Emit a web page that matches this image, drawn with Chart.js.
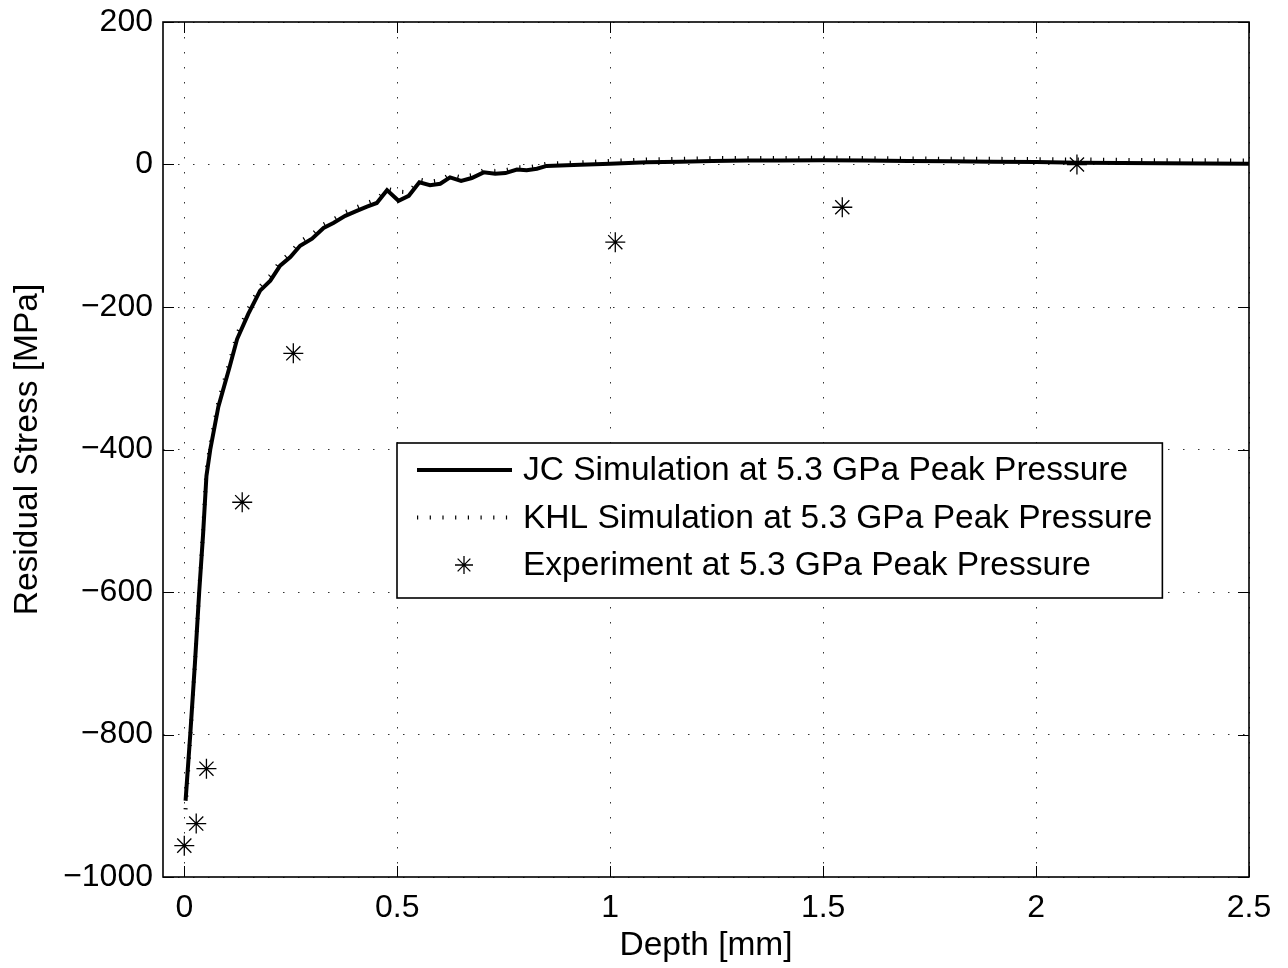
<!DOCTYPE html>
<html>
<head>
<meta charset="utf-8">
<script src="https://cdn.jsdelivr.net/npm/chart.js@4.4.1/dist/chart.umd.min.js"></script>
<style>
  html, body { margin: 0; padding: 0; background: #fff; }
</style>
</head>
<body>
<canvas id="chart" width="1288" height="968"></canvas>
<script>
// Simulated residual stress profiles
const simDepth = [0.003, 0.014, 0.025, 0.035, 0.044, 0.052, 0.061, 0.08, 0.106, 0.124, 0.15, 0.178, 0.202, 0.225, 0.249,
  0.272, 0.300, 0.327, 0.350, 0.378, 0.405, 0.429, 0.452, 0.476, 0.503, 0.527, 0.552, 0.577, 0.601, 0.624, 0.650,
  0.675, 0.703, 0.730, 0.754, 0.781, 0.804, 0.828, 0.851, 0.93, 1.0, 1.086, 1.164, 1.24, 1.32, 1.40, 1.5, 1.6, 1.7,
  1.8, 1.9, 2.0, 2.1, 2.2, 2.3, 2.4, 2.5];
const jcStress = [-893, -800, -700, -600, -520, -437, -400, -340, -285, -245, -210, -177, -163, -142, -130,
  -114, -104, -89, -82, -72, -65, -59, -54, -36, -51, -44, -25, -29, -27, -18, -23,
  -19, -11, -13, -12, -7, -8, -6, -2, -0.5, 1, 3, 4, 5, 5.6, 5.6, 6, 5.5, 5,
  4.5, 4, 3.5, 2.5, 2, 1.8, 1.5, 1];
const khlStress = [-905, -805, -700, -598, -515, -430, -393, -333, -278, -238, -203, -171, -156, -136, -124,
  -108, -98, -84, -77, -67, -60, -54, -49, -34, -38, -39, -21, -24, -22, -14, -18,
  -15, -8, -9, -8, -4, -4, -2, 1, 3, 5, 7, 8, 9, 9, 9, 9.5, 9, 8.5,
  8, 8, 7.5, 7, 6.5, 6, 6, 5.5];

// Measured points
const expDepth = [0, 0.028, 0.052, 0.136, 0.256, 1.012, 1.545, 2.096];
const expStress = [-956, -925, -848, -474, -265, -109, -60, 0];

const xTicks = [0, 0.5, 1, 1.5, 2, 2.5];
const yTicks = [-1000, -800, -600, -400, -200, 0, 200];

const seriesLabels = [
  'JC Simulation at 5.3 GPa Peak Pressure',
  'KHL Simulation at 5.3 GPa Peak Pressure',
  'Experiment at 5.3 GPa Peak Pressure'
];

const FONT = "'Liberation Sans', Arial, Helvetica, sans-serif";
const FS = 32;      // tick labels
const FS_TXT = 33.5; // titles and legend
const KHL_DASH = [1.2, 11.5];

const toPts = (xs, ys) => xs.map((x, i) => ({ x: x, y: ys[i] }));

function fmt(v) {
  const s = String(v);
  return v < 0 ? '\u2212' + s.slice(1) : s;
}

function drawStar(ctx, x, y, r) {
  ctx.beginPath();
  ctx.moveTo(x - r, y); ctx.lineTo(x + r, y);
  ctx.moveTo(x, y - r); ctx.lineTo(x, y + r);
  const d = r * Math.SQRT1_2;
  ctx.moveTo(x - d, y - d); ctx.lineTo(x + d, y + d);
  ctx.moveTo(x - d, y + d); ctx.lineTo(x + d, y - d);
  ctx.stroke();
}

// MATLAB-like box with inward ticks on all four sides
const framePlugin = {
  id: 'frame',
  afterDraw(chart) {
    const { ctx, chartArea: a, scales } = chart;
    const tl = 11;
    ctx.save();
    ctx.strokeStyle = '#000';
    ctx.lineWidth = 1;
    ctx.beginPath();
    xTicks.forEach(v => {
      const px = Math.round(scales.x.getPixelForValue(v)) + 0.5;
      ctx.moveTo(px, a.bottom); ctx.lineTo(px, a.bottom - tl);
      ctx.moveTo(px, a.top); ctx.lineTo(px, a.top + tl);
    });
    yTicks.forEach(v => {
      const py = Math.round(scales.y.getPixelForValue(v)) + 0.5;
      ctx.moveTo(a.left, py); ctx.lineTo(a.left + tl, py);
      ctx.moveTo(a.right, py); ctx.lineTo(a.right - tl, py);
    });
    ctx.stroke();
    ctx.lineWidth = 1.6;
    ctx.strokeRect(a.left, a.top, a.right - a.left, a.bottom - a.top);
    ctx.restore();
  }
};

// Legend box inside the plot
const legendPlugin = {
  id: 'boxLegend',
  afterDraw(chart) {
    const { ctx, chartArea: a } = chart;
    const x0 = a.left + 234, y0 = a.top + 421;
    const rowH = 47.5;
    const textX = x0 + 126;
    ctx.save();
    ctx.font = FS_TXT + 'px ' + FONT;
    const w = Math.max(...seriesLabels.map(t => ctx.measureText(t).width));
    const bw = textX - x0 + w + 10, bh = 155;
    ctx.fillStyle = '#fff';
    ctx.fillRect(x0, y0, bw, bh);
    ctx.strokeStyle = '#000';
    ctx.lineWidth = 1.6;
    ctx.strokeRect(x0, y0, bw, bh);

    const ly = i => y0 + 27 + i * rowH;
    // JC
    ctx.lineWidth = 4;
    ctx.beginPath(); ctx.moveTo(x0 + 20, ly(0)); ctx.lineTo(x0 + 115, ly(0)); ctx.stroke();
    // KHL
    ctx.setLineDash(KHL_DASH);
    ctx.lineCap = 'butt';
    ctx.beginPath(); ctx.moveTo(x0 + 20, ly(1)); ctx.lineTo(x0 + 115, ly(1)); ctx.stroke();
    ctx.setLineDash([]);
    // Experiment
    ctx.lineWidth = 1.3;
    drawStar(ctx, x0 + 67, ly(2), 9);

    ctx.fillStyle = '#000';
    ctx.textAlign = 'left';
    ctx.textBaseline = 'middle';
    seriesLabels.forEach((t, i) => ctx.fillText(t, textX, ly(i) + 1));
    ctx.restore();
  }
};

const ctx = document.getElementById('chart').getContext('2d');
new Chart(ctx, {
  type: 'scatter',
  data: {
    datasets: [
      {
        label: seriesLabels[1],
        data: toPts(simDepth, khlStress),
        showLine: true,
        borderColor: '#000',
        borderWidth: 4,
        borderDash: KHL_DASH,
        borderCapStyle: 'butt',
        pointRadius: 0,
        tension: 0,
        order: 3
      },
      {
        label: seriesLabels[0],
        data: toPts(simDepth, jcStress),
        showLine: true,
        borderColor: '#000',
        borderWidth: 4,
        pointRadius: 0,
        tension: 0,
        order: 2
      },
      {
        label: seriesLabels[2],
        data: toPts(expDepth, expStress),
        showLine: false,
        pointStyle: 'star',
        pointRadius: 10,
        borderColor: '#000',
        backgroundColor: '#000',
        pointBorderWidth: 1.3,
        clip: false,
        order: 1
      }
    ]
  },
  options: {
    responsive: false,
    animation: false,
    devicePixelRatio: 1,
    layout: { padding: { top: 22, right: 39, left: 0, bottom: 0 } },
    plugins: {
      legend: { display: false },
      tooltip: { enabled: false }
    },
    scales: {
      x: {
        type: 'linear',
        min: -0.05,
        max: 2.5,
        afterBuildTicks: s => { s.ticks = xTicks.map(v => ({ value: v })); },
        afterFit: s => { s.height = 91; s.paddingLeft = 0; s.paddingRight = 0; },
        grid: { color: '#333', lineWidth: 1, drawTicks: false },
        border: { display: false, dash: [1.5, 13.5] },
        ticks: {
          color: '#000',
          font: { family: FONT, size: FS },
          padding: 12,
          maxRotation: 0,
          callback: v => fmt(v)
        },
        title: {
          display: true,
          text: 'Depth [mm]',
          color: '#000',
          font: { family: FONT, size: FS_TXT },
          padding: { top: 0, bottom: 2 }
        }
      },
      y: {
        type: 'linear',
        min: -1000,
        max: 200,
        afterBuildTicks: s => { s.ticks = yTicks.map(v => ({ value: v })); },
        afterFit: s => { s.width = 163; s.paddingTop = 0; s.paddingBottom = 0; },
        grid: { color: '#333', lineWidth: 1, drawTicks: false },
        border: { display: false, dash: [1.5, 13.5] },
        ticks: {
          color: '#000',
          font: { family: FONT, size: FS },
          padding: 10,
          callback: v => fmt(v)
        },
        title: {
          display: true,
          text: 'Residual Stress [MPa]',
          color: '#000',
          font: { family: FONT, size: FS_TXT },
          padding: { top: 8, bottom: 0 }
        }
      }
    }
  },
  plugins: [framePlugin, legendPlugin]
});
</script>
</body>
</html>
